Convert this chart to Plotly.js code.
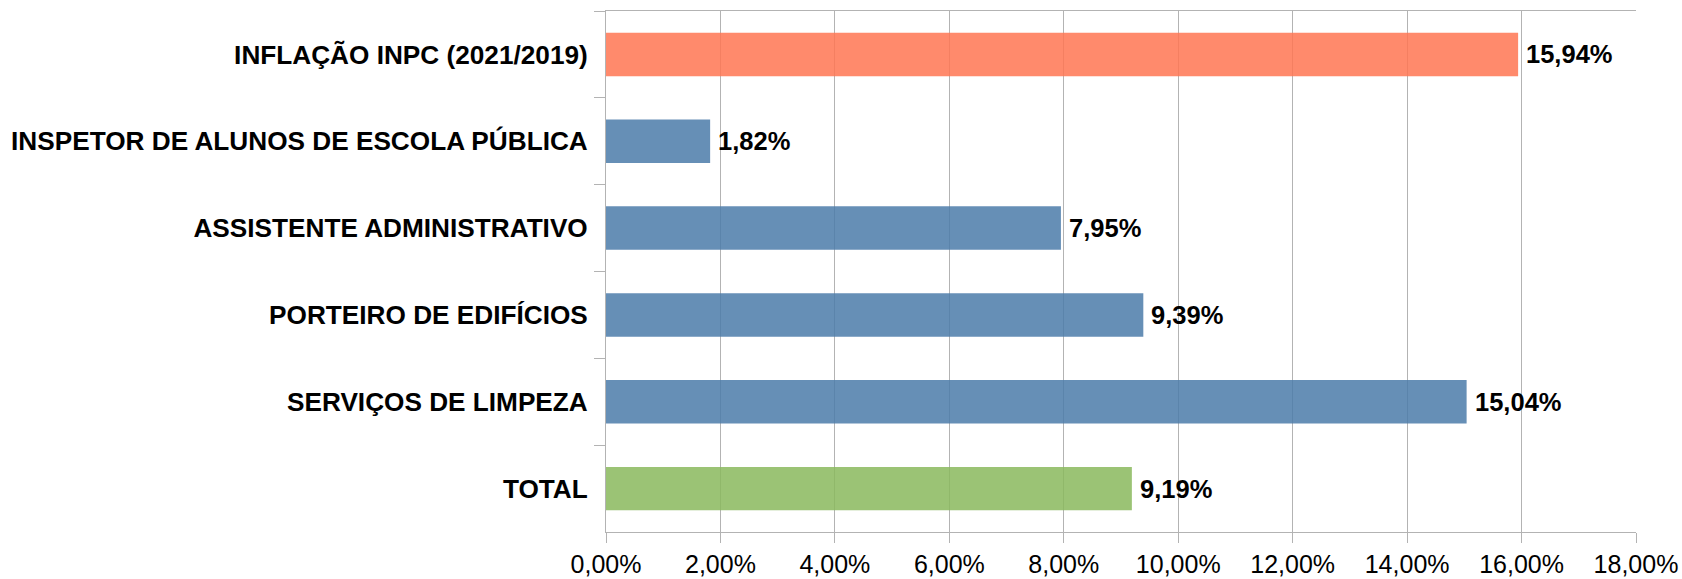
<!DOCTYPE html>
<html>
<head>
<meta charset="utf-8">
<script src="https://cdn.plot.ly/plotly-3.0.1.min.js"></script>
<style>
html,body{margin:0;padding:0;background:#fff;}
#chart{width:1682px;height:579px;}
</style>
</head>
<body>
<div id="chart"></div>
<script>
var categories = [
  'INFLAÇÃO INPC (2021/2019)',
  'INSPETOR DE ALUNOS DE ESCOLA PÚBLICA',
  'ASSISTENTE ADMINISTRATIVO',
  'PORTEIRO DE EDIFÍCIOS',
  'SERVIÇOS DE LIMPEZA',
  'TOTAL'
];
var values = [15.94, 1.82, 7.95, 9.39, 15.04, 9.19];
var barColors = ['#FF7652', '#4B7BA9', '#4B7BA9', '#4B7BA9', '#4B7BA9', '#89B95D'];
var xTicks = [0, 2, 4, 6, 8, 10, 12, 14, 16, 18];

function fmt(v){ return v.toFixed(2).replace('.', ',') + '%'; }

var trace = {
  type: 'bar',
  orientation: 'h',
  x: values,
  y: categories,
  marker: {color: barColors, opacity: 0.85, line: {width: 0}},
  hoverinfo: 'none'
};

var annotations = values.map(function(v, i){
  return {
    x: v, y: categories[i], xref: 'x', yref: 'y',
    text: '<b>' + fmt(v) + '</b>', showarrow: false, xanchor: 'left', xshift: 6,
    font: {family: 'Liberation Sans, Arial, sans-serif', size: 25.5, color: '#000'}
  };
});

var layout = {
  width: 1682, height: 579,
  margin: {l: 606, r: 46, t: 11, b: 47, pad: 0},
  paper_bgcolor: '#fff', plot_bgcolor: '#fff',
  separators: ',.',
  showlegend: false,
  bargap: 0.5,
  font: {family: 'Liberation Sans, Arial, sans-serif', size: 25, color: '#000'},
  xaxis: {
    range: [0, 18],
    tickvals: xTicks,
    ticktext: xTicks.map(function(t){ return t.toFixed(2).replace('.', ',') + '%'; }),
    showgrid: true, gridcolor: '#b3b3b3', gridwidth: 1,
    showline: true, linecolor: '#b3b3b3', linewidth: 1, mirror: true,
    ticks: 'outside', ticklen: 10, tickcolor: '#b3b3b3', tickwidth: 1,
    tickfont: {family: 'Liberation Sans, Arial, sans-serif', size: 25, color: '#000'},
    zeroline: false, fixedrange: true
  },
  yaxis: {
    type: 'category',
    autorange: 'reversed',
    tickson: 'boundaries',
    ticks: 'outside', ticklen: 11, tickcolor: '#b3b3b3', tickwidth: 1,
    showline: true, linecolor: '#b3b3b3', linewidth: 1,
    showgrid: false, zeroline: false,
    ticklabelstandoff: 12,
    tickfont: {family: 'Liberation Sans, Arial, sans-serif', size: 26.2, color: '#000', weight: 'bold'},
    fixedrange: true
  },
  annotations: annotations
};

Plotly.newPlot('chart', [trace], layout, {staticPlot: true, displayModeBar: false});
</script>
</body>
</html>
